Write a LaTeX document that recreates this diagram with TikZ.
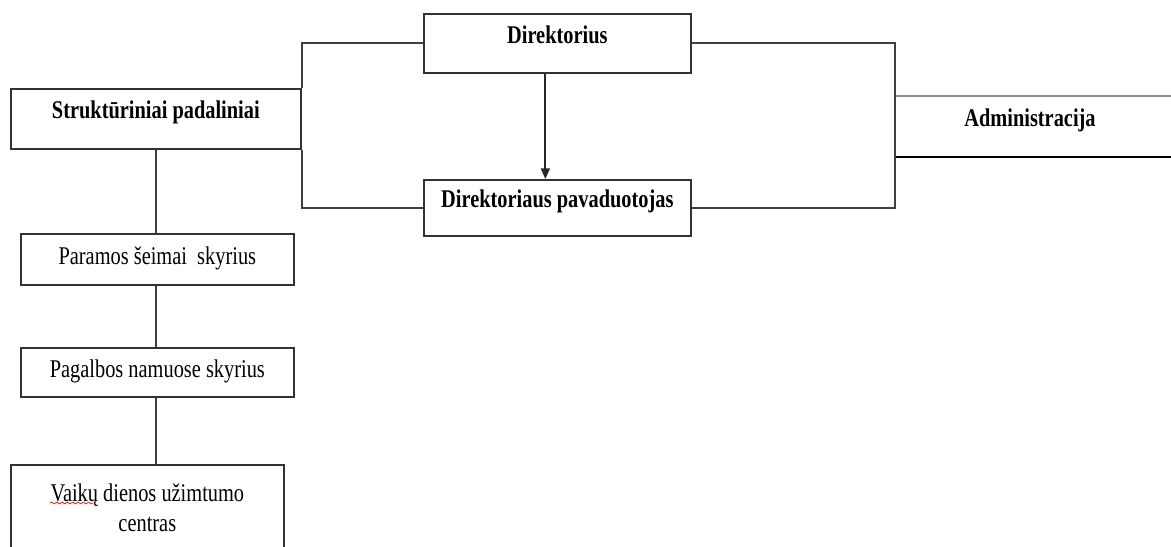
\documentclass[tikz,border=0pt]{standalone}
\usepackage{fontspec}
\setmainfont[FakeStretch=0.8]{Liberation Serif}
\usetikzlibrary{arrows.meta,decorations.pathmorphing}

\begin{document}
\begin{tikzpicture}[x=0.02cm,y=-0.02cm,
	line width=1pt,
	unitbox/.style={draw=black!80,rectangle,inner sep=0pt,anchor=north west,
		font=\fontsize{14.5}{17}\selectfont},
	headbox/.style={unitbox,font=\fontsize{14.5}{17}\selectfont\bfseries,
		text height=10pt,text depth=10pt},
	subbox/.style={unitbox,text height=10pt,text depth=4pt},
	link/.style={draw=black!75}
]
\useasboundingbox (0,0) rectangle (1171,547);

% top level
\node[headbox,minimum width=5.8cm,minimum height=1.2cm] (str) at (10,88) {Strukt\=uriniai padaliniai};
\node[headbox,minimum width=5.34cm,minimum height=1.18cm] (dir) at (423,13) {Direktorius};
\node[headbox,minimum width=5.34cm,minimum height=1.12cm] (pav) at (423,179) {Direktoriaus pavaduotojas};

% administracija (open box)
\coordinate (admtl) at (895,96);
\coordinate (admtr) at (1171,96);
\coordinate (admbl) at (895,157);
\coordinate (admbr) at (1171,157);
\node[font=\fontsize{14.5}{17}\selectfont\bfseries,text height=10pt,text depth=10pt] (adm) at (1030,127) {Administracija};
\draw[draw=black!45] (admtl) -- (admtr);
\draw[draw=black] (admbl) -- (admbr);

% departments
\node[subbox,minimum width=5.46cm,minimum height=1.02cm] (par) at (20,233) {Paramos šeimai\ \ skyrius};
\node[subbox,minimum width=5.46cm,minimum height=0.98cm] (pag) at (20,347) {Pagalbos namuose skyrius};
\node[unitbox,align=center,minimum width=5.46cm,minimum height=1.72cm] (vai) at (10,464) {Vaikų dienos užimtumo\\centras};
\draw[red,line width=0.4pt,decorate,decoration={snake,segment length=3pt,amplitude=0.5pt}] (50,503) -- (93,503);

% connectors
\draw[link] (dir.west) -| (str.north east);
\draw[link] (pav.west) -| (str.south east);
\draw[link] (dir.east) -| (admtl);
\draw[link] (pav.east) -| (admbl);
\draw[link] (admtl) -- (admbl);
\draw[-{Triangle[length=6pt,width=5pt]},black!85] ([xshift=-0.24cm]dir.south) -- ([xshift=-0.24cm]pav.north);

\draw[link] (str.south) -- (str.south |- par.north);
\draw[link] (par.south -| str.south) -- (pag.north -| str.south);
\draw[link] (pag.south -| str.south) -- (vai.north -| str.south);

\end{tikzpicture}
\end{document}
